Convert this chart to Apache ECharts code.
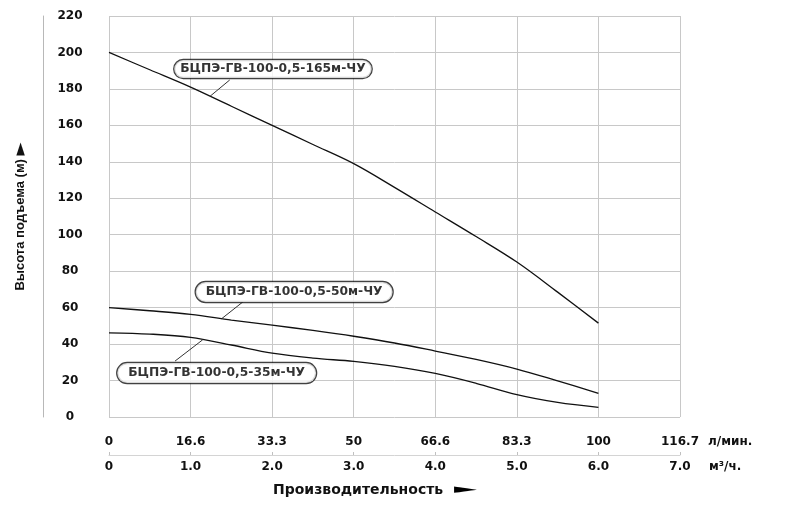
<!DOCTYPE html>
<html>
<head>
<meta charset="utf-8">
<script src="https://cdn.jsdelivr.net/npm/echarts@6/dist/echarts.min.js"></script>
<style>
    html, body { margin: 0; padding: 0; background: #fff; }
    #chart { width: 785px; height: 510px; }
</style>
</head>
<body>
<div id="chart"></div>
<script>
// расход, м3/ч
const flow = [0, 0.5, 1, 1.5, 2, 2.5, 3, 3.5, 4, 4.5, 5, 5.5, 6];

// напор, м
const head165 = [200, 190.5, 181, 170.5, 160, 149.5, 139, 126, 112.5, 99, 85, 68.5, 51.5];
const head50 = [60, 58.3, 56.3, 53.2, 50.4, 47.5, 44.3, 40.6, 36.2, 31.6, 26.3, 19.8, 13];
const head35 = [46.2, 45.5, 43.7, 39.5, 35, 32.3, 30.5, 27.8, 23.9, 18.5, 12.3, 8, 5.3];

const pumpNames = ['БЦПЭ-ГВ-100-0,5-165м-ЧУ', 'БЦПЭ-ГВ-100-0,5-50м-ЧУ', 'БЦПЭ-ГВ-100-0,5-35м-ЧУ'];
// центры подписей (м3/ч, м)
const calloutCenters = [[2.01, 190.9], [2.27, 68.6], [1.32, 24.1]];
// выноски: точка на кривой -> край подписи
const leaderLines = [
    [[1.24, 176], [1.48, 184.9]],
    [[1.38, 53.9], [1.64, 63.1]],
    [[1.15, 42.4], [0.81, 30.7]]
];

const lpmLabels = ['0', '16.6', '33.3', '50', '66.6', '83.3', '100', '116.7'];
const m3hLabels = ['0', '1.0', '2.0', '3.0', '4.0', '5.0', '6.0', '7.0'];

const font = 'DejaVu Sans';
const gridColor = '#c8c8c8';
const ink = '#111';

// у первой рамки поля по бокам уже, чем у двух нижних
const calloutPadding = [[3, 6, 3, 6], [4, 10, 4, 10], [4, 11, 4, 11]];

const chart = echarts.init(document.getElementById('chart'));

const toPairs = (ys) => flow.map((x, i) => [x, ys[i]]);

const curve = (name, ys) => ({
    name: name,
    type: 'line',
    xAxisIndex: 1,
    smooth: 0.35,
    symbol: 'none',
    silent: true,
    lineStyle: { color: ink, width: 1.3 },
    data: toPairs(ys)
});

const leader = (pts) => ({
    type: 'line',
    xAxisIndex: 1,
    symbol: 'none',
    silent: true,
    z: 4,
    lineStyle: { color: '#333', width: 1 },
    data: pts
});

const callouts = {
    type: 'scatter',
    xAxisIndex: 1,
    symbolSize: 0,
    silent: true,
    z: 5,
    label: {
        show: true,
        position: 'inside',
        formatter: p => pumpNames[p.dataIndex],
        fontFamily: font,
        fontWeight: 'bold',
        fontSize: 12.3,
        color: '#000',
        backgroundColor: '#fff',
        borderColor: ink,
        borderWidth: 1.2,
        borderRadius: 10
    },
    data: calloutCenters.map((c, i) => ({ value: c, label: { padding: calloutPadding[i] } }))
};

const unitText = (text, left, top) => ({
    type: 'text',
    left: left,
    top: top,
    style: { text: text, fontFamily: font, fontWeight: 'bold', fontSize: 12, fill: ink }
});

const option = {
    animation: false,
    grid: { left: 109, right: 105, top: 16, bottom: 93, outerBoundsMode: 'none' },
    xAxis: [
        {
            type: 'value',
            min: 0, max: 7, interval: 1,
            position: 'bottom',
            axisLine: { show: false },
            axisTick: { show: false },
            axisLabel: { margin: 19, fontFamily: font, fontWeight: 'bold', fontSize: 12, color: ink, formatter: (v) => lpmLabels[Math.round(v)] },
            splitLine: { show: true, lineStyle: { color: gridColor, width: 1 } }
        },
        {
            type: 'value',
            min: 0, max: 7, interval: 1,
            position: 'bottom',
            offset: 38,
            axisLine: { show: true, onZero: false, lineStyle: { color: '#d4d4d4', width: 1 } },
            axisTick: { show: true, inside: true, length: 3, lineStyle: { color: '#c0c0c0' } },
            axisLabel: { margin: 6, fontFamily: font, fontWeight: 'bold', fontSize: 12, color: ink, formatter: (v) => m3hLabels[Math.round(v)] },
            splitLine: { show: false }
        }
    ],
    yAxis: [
        {
            type: 'value',
            min: 0, max: 220, interval: 20,
            name: 'Высота подъема (м) {a|►}',
            nameLocation: 'middle',
            nameGap: 80,
            nameTextStyle: {
                fontFamily: 'Liberation Sans Narrow, Liberation Sans',
                fontWeight: 'bold',
                fontSize: 13,
                color: ink,
                rich: { a: { fontSize: 17, color: ink, fontFamily: font } }
            },
            axisLine: { show: false },
            axisTick: { show: false },
            axisLabel: { margin: 39, align: 'center', fontFamily: font, fontWeight: 'bold', fontSize: 12, color: ink },
            splitLine: { show: true, lineStyle: { color: gridColor, width: 1 } }
        },
        {
            type: 'value',
            min: 0, max: 220,
            position: 'left',
            offset: 66,
            axisLine: { show: true, onZero: false, lineStyle: { color: '#b8b8b8', width: 1 } },
            axisTick: { show: false },
            axisLabel: { show: false },
            splitLine: { show: false }
        }
    ],
    graphic: [
        unitText('л/мин.', 708, 436),
        unitText('м³/ч.', 709, 461),
        {
            type: 'text',
            left: 273,
            top: 483,
            style: { text: 'Производительность', fontFamily: font, fontWeight: 'bold', fontSize: 14, fill: ink }
        },
        {
            type: 'text',
            x: 454,
            y: 483,
            scaleX: 2.3,
            style: { text: '►', fontFamily: font, fontSize: 13, fill: '#000' }
        }
    ],
    series: [
        curve(pumpNames[0], head165),
        curve(pumpNames[1], head50),
        curve(pumpNames[2], head35),
        ...leaderLines.map(leader),
        callouts
    ]
};

chart.setOption(option);
window.addEventListener('resize', () => chart.resize());
</script>
</body>
</html>
